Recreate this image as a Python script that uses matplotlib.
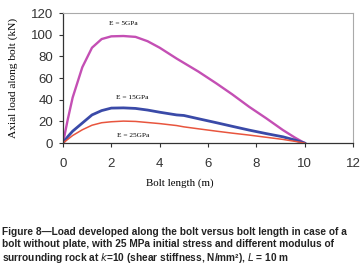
import matplotlib
matplotlib.use("Agg")
import matplotlib.pyplot as plt

# ── data ──────────────────────────────────────────────────────────────────────
bolt_len = [0, 0.2, 0.4, 0.8, 1.2, 1.6, 2.0, 2.5, 3.0, 3.5, 4.0, 4.7, 5.0, 5.6,
            6.35, 7.0, 7.7, 8.4, 9.1, 9.6, 10.0]
load_e5 = [0, 22, 42, 70, 88, 96, 98.5, 98.8, 98, 94, 88, 78, 74, 66,
           55, 45, 33.5, 23, 12, 5, 0]
load_e15 = [0, 6, 11, 18.5, 26, 30, 32.3, 32.5, 32, 30.5, 28.5, 26, 25.5, 22.5,
            18.8, 15.5, 12, 8.8, 5.8, 2.8, 0]
load_e25 = [0, 3.5, 7, 12.3, 16.5, 18.8, 19.7, 20.3, 20, 19, 18, 16.2, 15, 13.2,
            11, 9.2, 7.4, 5.4, 3.4, 1.6, 0]

series = [
    (load_e5,  "#c44fb4", 1.7, "E = 5GPa",  (2.5, 110)),
    (load_e15, "#3a4aa8", 2.0, "E = 15GPa", (2.85, 42.5)),
    (load_e25, "#e8553e", 1.1, "E = 25GPa", (2.9, 7.4)),
]

x_ticks = [0, 2, 4, 6, 8, 10, 12]
y_ticks = [0, 20, 40, 60, 80, 100, 120]

caption = ("Figure 8\u2014Load developed along the bolt versus bolt length in case of a\n"
           "bolt without plate, with 25 MPa initial stress and different modulus of\n"
           "surrounding rock at $\\mathbf{\\it{k}}$=10 (shear stiffness, N/mm\u00b2), "
           "$\\mathbf{\\it{L}}$ = 10 m")

# ── figure ────────────────────────────────────────────────────────────────────
fig = plt.figure(figsize=(3.64, 2.66), dpi=100)
ax = fig.add_axes([0.173, 0.462, 0.797, 0.489])

for ys, col, lw, lab, pos in series:
    ax.plot(bolt_len, ys, color=col, linewidth=lw)
    ax.text(pos[0], pos[1], lab, fontsize=5.3, family="Liberation Serif",
            ha="center", va="center")

ax.set_xlim(0, 12)
ax.set_ylim(0, 120)
ax.set_xticks(x_ticks)
ax.set_yticks(y_ticks)
ax.tick_params(direction="out", length=3, width=0.8, labelsize=9.5,
               colors="#333333")
ax.tick_params(axis="y", pad=4)
ax.tick_params(axis="x", pad=8)
for lbl in ax.get_xticklabels() + ax.get_yticklabels():
    lbl.set_family("Liberation Sans")
for side in ("top", "right"):
    ax.spines[side].set_color("#aaaaaa")
    ax.spines[side].set_linewidth(0.8)
for side in ("left", "bottom"):
    ax.spines[side].set_color("#333333")
    ax.spines[side].set_linewidth(0.9)

ax.set_xlabel("Bolt length (m)", family="Liberation Serif", fontsize=7.8)
ax.xaxis.set_label_coords((180 - 63) / 290, -0.27)
ax.set_ylabel("Axial load along bolt (kN)", family="Liberation Serif",
              fontsize=8.2)
ax.yaxis.set_label_coords(-0.155, 0.5)

fig.text(0.005, 0.148, caption, ha="left", va="top", fontsize=7.3,
         fontweight="bold", family="Liberation Sans", linespacing=1.25,
         color="#222222")

fig.savefig("out.png", dpi=100)
